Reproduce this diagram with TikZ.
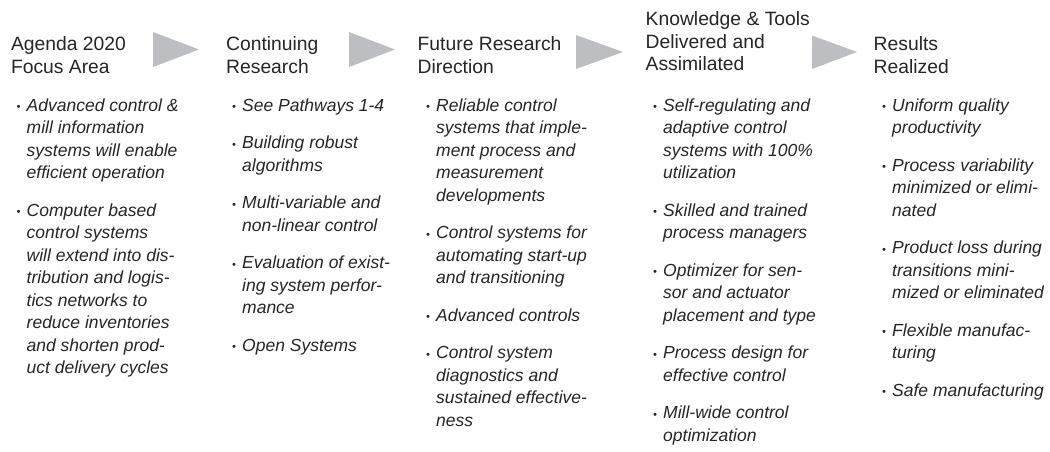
\documentclass[tikz,border=0pt]{standalone}
\usepackage{fontspec}
\setmainfont{Liberation Sans}
\definecolor{txt}{RGB}{38,36,37}
\definecolor{tri}{RGB}{189,190,194}
\newcommand{\itembul}{\llap{\raisebox{0.6pt}{\fontsize{11}{11}\selectfont\textbullet}\hspace{6.3pt}}}
\tikzset{
  head/.style={anchor=north west, inner sep=0pt, align=left, text=txt,
    font=\fontsize{19.3}{22.6}\selectfont},
  bul/.style={anchor=north west, inner sep=0pt, align=left, text=txt,
    font=\fontsize{17.5}{22.5}\selectfont\itshape},
  flowtri/.style={fill=tri}
}
\begin{document}
\begin{tikzpicture}[x=1pt,y=-1pt]
\useasboundingbox (0,0) rectangle (1050,451);
% headings (top = baseline - 15.82)
\node[head] (h1) at (10.8,34.7) {\strut Agenda 2020\\Focus Area};
\node[head] (h2) at (226,34.7) {\strut Continuing\\Research};
\node[head] (h3) at (417.5,34.7) {\strut Future Research\\Direction};
\node[head] (h4) at (645.5,9.7) {\strut Knowledge \& Tools\\Delivered and\\Assimilated};
\node[head] (h5) at (873.5,34.7) {\strut Results\\Realized};
% arrows between headings
\fill[flowtri] (153,32) -- (153,67) -- (199,49.5) -- cycle;
\fill[flowtri] (349,32) -- (349,67) -- (395,49.5) -- cycle;
\fill[flowtri] (576,35) -- (576,69) -- (623,52) -- cycle;
\fill[flowtri] (812,35.5) -- (812,69) -- (857,52) -- cycle;
% column 1 (top = baseline - 15.75)
\node[bul] (a1) at (26.5,95.25) {\strut\itembul Advanced control \&\\mill information\\systems will enable\\efficient operation};
\node[bul] (a2) at (26.5,200.25) {\strut\itembul Computer based\\control systems\\will extend into dis-\\tribution and logis-\\tics networks to\\reduce inventories\\and shorten prod-\\uct delivery cycles};
% column 2
\node[bul] (b1) at (242,95.25) {\strut\itembul See Pathways 1-4};
\node[bul] (b2) at (242,132.75) {\strut\itembul Building robust\\algorithms};
\node[bul] (b3) at (242,192.75) {\strut\itembul Multi-variable and\\non-linear control};
\node[bul] (b4) at (242,252.75) {\strut\itembul Evaluation of exist-\\ing system perfor-\\mance};
\node[bul] (b5) at (242,335.25) {\strut\itembul Open Systems};
% column 3
\node[bul] (c1) at (436,95.25) {\strut\itembul Reliable control\\systems that imple-\\ment process and\\measurement\\developments};
\node[bul] (c2) at (436,222.75) {\strut\itembul Control systems for\\automating start-up\\and transitioning};
\node[bul] (c3) at (436,305.25) {\strut\itembul Advanced controls};
\node[bul] (c4) at (436,342.75) {\strut\itembul Control system\\diagnostics and\\sustained effective-\\ness};
% column 4
\node[bul] (d1) at (663,95.25) {\strut\itembul Self-regulating and\\adaptive control\\systems with 100\%\\utilization};
\node[bul] (d2) at (663,200.25) {\strut\itembul Skilled and trained\\process managers};
\node[bul] (d3) at (663,260.25) {\strut\itembul Optimizer for sen-\\sor and actuator\\placement and type};
\node[bul] (d4) at (663,342.75) {\strut\itembul Process design for\\effective control};
\node[bul] (d5) at (663,402.75) {\strut\itembul Mill-wide control\\optimization};
% column 5
\node[bul] (e1) at (892,95.25) {\strut\itembul Uniform quality\\productivity};
\node[bul] (e2) at (892,155.25) {\strut\itembul Process variability\\minimized or elimi-\\nated};
\node[bul] (e3) at (892,237.75) {\strut\itembul Product loss during\\transitions mini-\\mized or eliminated};
\node[bul] (e4) at (892,320.25) {\strut\itembul Flexible manufac-\\turing};
\node[bul] (e5) at (892,380.25) {\strut\itembul Safe manufacturing};
\end{tikzpicture}
\end{document}
